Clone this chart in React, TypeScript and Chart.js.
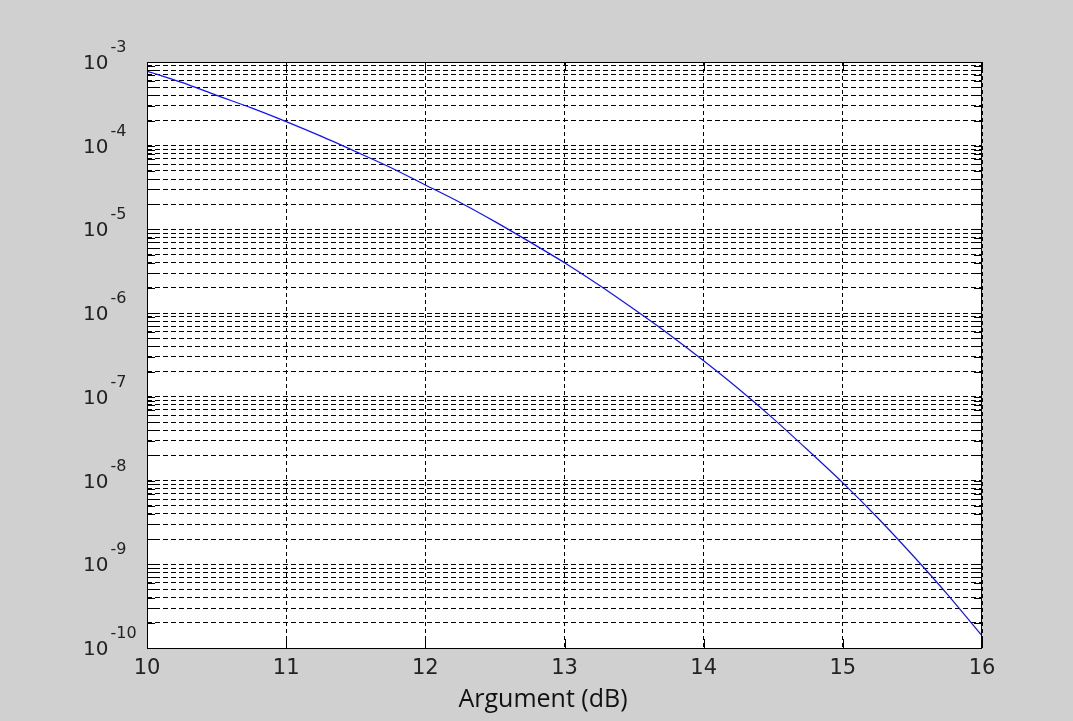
import React, { useEffect, useRef } from "react";
import { Chart, registerables } from "chart.js";

Chart.register(...registerables);

// Argument in dB (x) and curve value (log y)
const xValues = [
  10, 10.25, 10.5, 10.75, 11, 11.25, 11.5, 11.75, 12, 12.25, 12.5, 12.75, 13,
  13.25, 13.5, 13.75, 14, 14.25, 14.5, 14.75, 15, 15.25, 15.5, 15.75, 16,
];
const curveValues = [
  7.8e-4, 5.7e-4, 4.0e-4, 2.83e-4, 1.94e-4, 1.3e-4, 8.5e-5, 5.5e-5, 3.4e-5,
  2.1e-5, 1.24e-5, 7.1e-6, 4.0e-6, 2.15e-6, 1.11e-6, 5.6e-7, 2.7e-7, 1.25e-7,
  5.5e-8, 2.3e-8, 9.4e-9, 3.6e-9, 1.29e-9, 4.4e-10, 1.4e-10,
];

const xTickValues = [10, 11, 12, 13, 14, 15, 16];
const xTickLabels = ["10", "11", "12", "13", "14", "15", "16"];
const yDecadeExponents = [-10, -9, -8, -7, -6, -5, -4, -3];
const yDecadeBase = "10";
const yMinorMultipliers = [2, 3, 4, 5, 6, 7, 8, 9];
const xAxisTitle = "Argument (dB)";

const yTickValues: number[] = [];
yDecadeExponents.forEach((e, i) => {
  yTickValues.push(Math.pow(10, e));
  if (i < yDecadeExponents.length - 1) {
    yMinorMultipliers.forEach((m) => yTickValues.push(m * Math.pow(10, e)));
  }
});

const BG = "#d0d0d0";
const TEXT = "#222222";
const TICK_FONT = '"DejaVu Sans", "Liberation Sans", sans-serif';

const matlabPlugin = {
  id: "matlabLook",
  beforeDraw(chart: any) {
    const { ctx, chartArea } = chart;
    ctx.save();
    ctx.fillStyle = BG;
    ctx.fillRect(0, 0, chart.width, chart.height);
    ctx.fillStyle = "#ffffff";
    ctx.fillRect(
      chartArea.left,
      chartArea.top,
      chartArea.right - chartArea.left,
      chartArea.bottom - chartArea.top
    );
    ctx.restore();
  },
  afterDraw(chart: any) {
    const { ctx, chartArea } = chart;
    const { left, right, top, bottom } = chartArea;
    const xs = chart.scales.x;
    const ys = chart.scales.y;
    ctx.save();
    ctx.strokeStyle = "#000000";
    ctx.lineWidth = 1;
    ctx.setLineDash([]);
    // inside tick marks
    ctx.beginPath();
    yTickValues.forEach((v) => {
      const py = Math.round(ys.getPixelForValue(v)) + 0.5;
      ctx.moveTo(left, py);
      ctx.lineTo(left + 8, py);
      ctx.moveTo(right - 8, py);
      ctx.lineTo(right, py);
    });
    xTickValues.forEach((v) => {
      const px = Math.round(xs.getPixelForValue(v)) + 0.5;
      ctx.moveTo(px, bottom);
      ctx.lineTo(px, bottom - 9);
      ctx.moveTo(px, top);
      ctx.lineTo(px, top + 9);
    });
    ctx.stroke();
    // frame
    ctx.strokeRect(left + 0.5, top + 0.5, right - left - 1, bottom - top);

    // x tick labels
    ctx.fillStyle = TEXT;
    ctx.font = "21px " + TICK_FONT;
    ctx.textAlign = "center";
    ctx.textBaseline = "alphabetic";
    xTickValues.forEach((v, i) => {
      const px = xs.getPixelForValue(v);
      ctx.fillText(xTickLabels[i], px, bottom + 26);
    });

    // y tick labels: 10 with superscript exponent
    yDecadeExponents.forEach((e) => {
      const py = ys.getPixelForValue(Math.pow(10, e));
      ctx.textAlign = "left";
      ctx.font = "20px " + TICK_FONT;
      ctx.fillText(yDecadeBase, 83, py + 7);
      const w = ctx.measureText(yDecadeBase).width;
      ctx.font = "16px " + TICK_FONT;
      ctx.fillText(String(e), 83 + w + 2, py - 10);
    });

    // x axis title
    ctx.font = '25px "Open Sans", sans-serif';
    ctx.fillStyle = "#111111";
    ctx.textAlign = "center";
    ctx.fillText(xAxisTitle, 543, 707);
    ctx.restore();
  },
};

export default function App() {
  const canvasRef = useRef<HTMLCanvasElement | null>(null);

  useEffect(() => {
    document.body.style.margin = "0";
    document.body.style.background = BG;
    const canvas = canvasRef.current;
    if (!canvas) return;
    const chart = new Chart(canvas, {
      type: "line",
      data: {
        datasets: [
          {
            data: xValues.map((x, i) => ({ x, y: curveValues[i] })),
            borderColor: "#1010ff",
            borderWidth: 1.2,
            pointRadius: 0,
            fill: false,
            tension: 0.3,
          },
        ],
      },
      options: {
        animation: false,
        responsive: false,
        devicePixelRatio: 1,
        layout: { padding: { top: 62, right: 91, left: 0, bottom: 0 } },
        plugins: {
          legend: { display: false },
          tooltip: { enabled: false },
          title: { display: false },
        },
        scales: {
          x: {
            type: "linear",
            min: 10,
            max: 16,
            afterBuildTicks: (scale: any) => {
              scale.ticks = xTickValues.map((v) => ({ value: v }));
            },
            afterFit: (scale: any) => {
              scale.height = 73;
            },
            ticks: { display: false },
            grid: { color: "#000000", lineWidth: 1, drawTicks: false },
            border: { display: false, dash: [4, 3] },
          },
          y: {
            type: "logarithmic",
            min: 1e-10,
            max: 1e-3,
            afterBuildTicks: (scale: any) => {
              scale.ticks = yTickValues.map((v) => ({ value: v }));
            },
            afterFit: (scale: any) => {
              scale.width = 147;
            },
            ticks: { display: false },
            grid: { color: "#000000", lineWidth: 1, drawTicks: false },
            border: { display: false, dash: [5, 3] },
          },
        },
      },
      plugins: [matlabPlugin],
    });
    return () => chart.destroy();
  }, []);

  return (
    <div style={{ width: 1073, height: 721, background: BG }}>
      <canvas ref={canvasRef} width={1073} height={721} style={{ display: "block" }} />
    </div>
  );
}
